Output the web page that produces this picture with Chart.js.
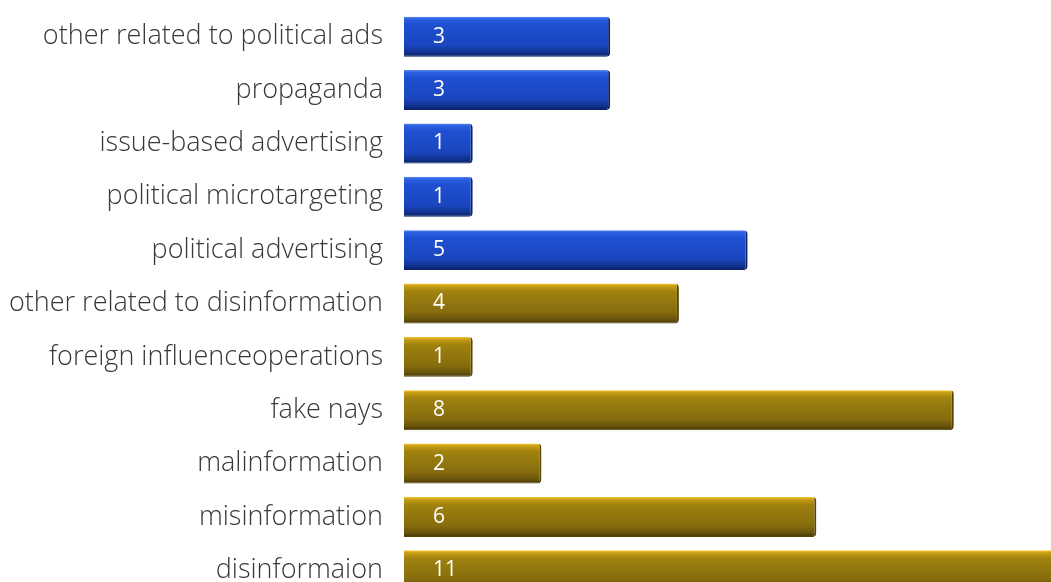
<!DOCTYPE html>
<html>
<head>
<meta charset="utf-8">
<script src="https://cdn.jsdelivr.net/npm/chart.js@4"></script>
<style>
  html, body { margin: 0; padding: 0; background: #fff; overflow: hidden; }
  #wrap { width: 1051px; height: 582px; overflow: hidden; }
</style>
</head>
<body>
<div id="wrap"><canvas id="myChart" width="1162" height="600"></canvas></div>
<script>
const categories = [
  "other related to political ads",
  "propaganda",
  "issue-based advertising",
  "political microtargeting",
  "political advertising",
  "other related to disinformation",
  "foreign influenceoperations",
  "fake nays",
  "malinformation",
  "misinformation",
  "disinformaion",
];
const counts = [3, 3, 1, 1, 5, 4, 1, 8, 2, 6, 11];
const groups = ["ads", "ads", "ads", "ads", "ads", "dis", "dis", "dis", "dis", "dis", "dis"];

const BAR_H = 40;

const stops = {
  ads: ["#5d88f0", "#2c5fe2", "#1f50d2", "#1a45bd", "#10318f", "#081e5e"],
  dis: ["#f7cb38", "#c89e15", "#a0820f", "#866c0d", "#67530b", "#433406"],
};
const edge = { ads: "#0a2266", dis: "#584407" };

function barFill(context) {
  const chart = context.chart;
  if (!chart.chartArea) return null;
  const y = chart.scales.y.getPixelForValue(context.dataIndex);
  const g = chart.ctx.createLinearGradient(0, y - BAR_H / 2, 0, y + BAR_H / 2);
  const s = stops[groups[context.dataIndex]];
  g.addColorStop(0, s[0]);
  g.addColorStop(0.06, s[1]);
  g.addColorStop(0.2, s[2]);
  g.addColorStop(0.72, s[3]);
  g.addColorStop(0.9, s[4]);
  g.addColorStop(1, s[5]);
  return g;
}

// white count drawn near the start of each bar
const valueLabels = {
  id: "valueLabels",
  afterDatasetsDraw(chart) {
    const c = chart.ctx;
    const meta = chart.getDatasetMeta(0);
    c.save();
    c.fillStyle = "#ffffff";
    c.font = "400 21px 'Open Sans'";
    c.textAlign = "left";
    c.textBaseline = "middle";
    meta.data.forEach((bar, i) => {
      c.fillText(String(counts[i]), bar.base + 29, bar.y);
    });
    c.restore();
  },
};

new Chart(document.getElementById("myChart"), {
  type: "bar",
  data: {
    labels: categories,
    datasets: [
      {
        data: counts,
        backgroundColor: barFill,
        borderColor: (ctx) => edge[groups[ctx.dataIndex]],
        borderWidth: { top: 0, right: 2, bottom: 1, left: 0 },
        borderRadius: 4,
        borderSkipped: "start",
        barPercentage: BAR_H / 53.4,
        categoryPercentage: 1,
      },
    ],
  },
  options: {
    indexAxis: "y",
    responsive: false,
    devicePixelRatio: 1,
    animation: false,
    layout: { padding: { top: 10, bottom: 3, left: 0, right: 2 } },
    plugins: {
      legend: { display: false },
      tooltip: { enabled: false },
    },
    scales: {
      x: {
        display: false,
        min: 0,
        max: 11,
      },
      y: {
        grid: { display: false, drawTicks: false },
        border: { display: false },
        afterFit(scale) {
          scale.width = 404;
          scale.paddingTop = 0;
          scale.paddingBottom = 0;
        },
        ticks: {
          padding: 21,
          color: "#383838",
          font: { family: "Open Sans", size: 27, weight: "300" },
        },
      },
    },
  },
  plugins: [valueLabels],
});
</script>
</body>
</html>
